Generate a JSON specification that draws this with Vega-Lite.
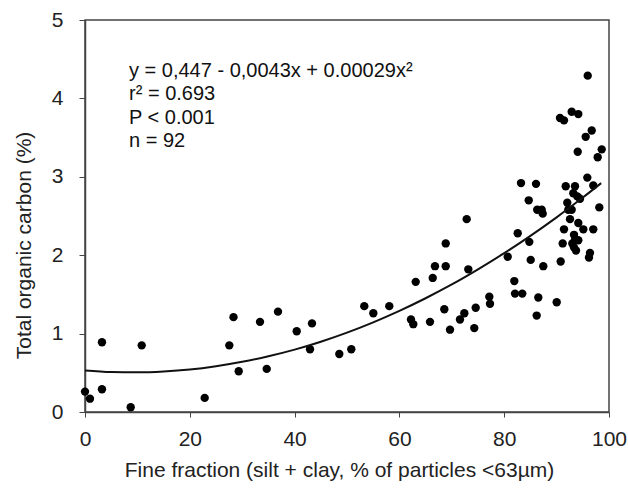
{
  "$schema": "https://vega.github.io/schema/vega-lite/v6.json",
  "width": 524,
  "height": 392,
  "autosize": "none",
  "padding": {"left": 85, "top": 20, "right": 19, "bottom": 79},
  "background": "white",
  "config": {
    "font": "Liberation Sans",
    "view": {"stroke": "#444", "strokeWidth": 1.5},
    "axis": {"grid": false, "domainColor": "#444", "domainWidth": 1.5, "tickColor": "#444", "labelColor": "#222", "titleColor": "#222", "labelFont": "Liberation Sans", "titleFont": "Liberation Sans", "titleFontWeight": "normal", "labelFontSize": 21, "titleFontSize": 21}
  },
  "datasets": {
    "pts": [
      {"x": 0.0, "y": 0.26}, {"x": 0.95, "y": 0.17}, {"x": 3.24, "y": 0.89}, {"x": 3.24, "y": 0.29},
      {"x": 8.72, "y": 0.06}, {"x": 10.82, "y": 0.85}, {"x": 22.84, "y": 0.18}, {"x": 27.54, "y": 0.85},
      {"x": 28.34, "y": 1.21}, {"x": 29.33, "y": 0.52}, {"x": 33.4, "y": 1.15}, {"x": 34.68, "y": 0.55},
      {"x": 36.83, "y": 1.28}, {"x": 40.4, "y": 1.03}, {"x": 42.94, "y": 0.8}, {"x": 43.32, "y": 1.13},
      {"x": 48.53, "y": 0.74}, {"x": 50.82, "y": 0.8}, {"x": 53.3, "y": 1.35}, {"x": 55.02, "y": 1.26},
      {"x": 58.07, "y": 1.35}, {"x": 62.21, "y": 1.18}, {"x": 62.65, "y": 1.12}, {"x": 63.11, "y": 1.66},
      {"x": 65.84, "y": 1.15}, {"x": 66.36, "y": 1.71}, {"x": 66.79, "y": 1.86}, {"x": 68.57, "y": 1.31},
      {"x": 68.84, "y": 1.86}, {"x": 68.84, "y": 2.15}, {"x": 69.66, "y": 1.05}, {"x": 71.56, "y": 1.18},
      {"x": 72.39, "y": 1.26}, {"x": 72.84, "y": 2.46}, {"x": 73.15, "y": 1.82}, {"x": 74.29, "y": 1.07},
      {"x": 74.56, "y": 1.33}, {"x": 77.16, "y": 1.47}, {"x": 77.29, "y": 1.38}, {"x": 80.67, "y": 1.98},
      {"x": 81.93, "y": 1.67}, {"x": 82.06, "y": 1.51}, {"x": 83.45, "y": 1.51}, {"x": 82.58, "y": 2.28},
      {"x": 83.21, "y": 2.92}, {"x": 86.07, "y": 2.91}, {"x": 84.68, "y": 2.7}, {"x": 87.16, "y": 2.58},
      {"x": 87.35, "y": 2.53}, {"x": 84.79, "y": 2.17}, {"x": 85.06, "y": 1.94}, {"x": 87.46, "y": 1.86},
      {"x": 86.51, "y": 1.46}, {"x": 86.2, "y": 1.23}, {"x": 90.02, "y": 1.4}, {"x": 90.78, "y": 1.92},
      {"x": 91.16, "y": 2.15}, {"x": 91.41, "y": 2.33}, {"x": 92.56, "y": 2.46}, {"x": 94.14, "y": 2.41},
      {"x": 95.1, "y": 2.33}, {"x": 97.0, "y": 2.33}, {"x": 93.32, "y": 2.26}, {"x": 93.51, "y": 2.19},
      {"x": 94.14, "y": 2.19}, {"x": 93.32, "y": 2.1}, {"x": 93.7, "y": 2.06}, {"x": 96.37, "y": 2.03},
      {"x": 96.18, "y": 1.97}, {"x": 92.04, "y": 2.67}, {"x": 92.23, "y": 2.58}, {"x": 92.88, "y": 2.58},
      {"x": 98.15, "y": 2.61}, {"x": 93.19, "y": 2.79}, {"x": 93.95, "y": 2.75}, {"x": 94.47, "y": 2.72},
      {"x": 91.74, "y": 2.88}, {"x": 93.51, "y": 2.88}, {"x": 97.0, "y": 2.89}, {"x": 95.86, "y": 2.99},
      {"x": 97.84, "y": 3.25}, {"x": 98.61, "y": 3.35}, {"x": 94.03, "y": 3.32}, {"x": 96.7, "y": 3.59},
      {"x": 95.55, "y": 3.51}, {"x": 92.88, "y": 3.83}, {"x": 94.14, "y": 3.8}, {"x": 90.65, "y": 3.75},
      {"x": 91.41, "y": 3.72}, {"x": 95.94, "y": 4.29}, {"x": 93.0, "y": 2.15}, {"x": 86.3, "y": 2.58}
    ],
    "fit": [
      {"x": 0, "y": 0.53}, {"x": 5, "y": 0.51}, {"x": 10, "y": 0.506}, {"x": 15, "y": 0.517},
      {"x": 20, "y": 0.542}, {"x": 25, "y": 0.584}, {"x": 30, "y": 0.64}, {"x": 35, "y": 0.711},
      {"x": 40, "y": 0.796}, {"x": 45, "y": 0.897}, {"x": 50, "y": 1.013}, {"x": 55, "y": 1.144},
      {"x": 60, "y": 1.29}, {"x": 65, "y": 1.451}, {"x": 70, "y": 1.627}, {"x": 75, "y": 1.82},
      {"x": 80, "y": 2.026}, {"x": 85, "y": 2.247}, {"x": 90, "y": 2.483}, {"x": 95, "y": 2.735},
      {"x": 98.5, "y": 2.919}
    ],
    "notes": [
      {"x": 8.4, "y": 4.35, "label": "y = 0,447 - 0,0043x + 0.00029x²"},
      {"x": 8.4, "y": 4.05, "label": "r² = 0.693"},
      {"x": 8.4, "y": 3.75, "label": "P < 0.001"},
      {"x": 8.4, "y": 3.46, "label": "n = 92"}
    ]
  },
  "layer": [
    {
      "data": {"name": "pts"},
      "mark": {"type": "point", "filled": true, "shape": "circle", "size": 70, "color": "#000", "opacity": 1},
      "encoding": {
        "x": {"field": "x", "type": "quantitative", "scale": {"domain": [0, 100], "nice": false, "zero": false},
          "axis": {"title": "Fine fraction (silt + clay, % of particles <63µm)", "values": [0, 20, 40, 60, 80, 100], "format": "d", "tickSize": 5, "labelPadding": 11, "titleY": 58, "titleBaseline": "middle", "titleX": 254, "titleAnchor": null, "labelFlush": false}},
        "y": {"field": "y", "type": "quantitative", "scale": {"domain": [0, 5], "nice": false, "zero": false},
          "axis": {"title": "Total organic carbon (%)", "values": [0, 1, 2, 3, 4, 5], "format": "d", "tickSize": 6, "labelPadding": 16, "titleX": -61, "titleY": 225, "titleAngle": 270, "titleBaseline": "middle", "titleAlign": "center", "labelFlush": false}}
      }
    },
    {
      "data": {"name": "fit"},
      "mark": {"type": "line", "color": "#111", "strokeWidth": 2, "interpolate": "monotone"},
      "encoding": {
        "x": {"field": "x", "type": "quantitative"},
        "y": {"field": "y", "type": "quantitative"}
      }
    },
    {
      "data": {"name": "notes"},
      "mark": {"type": "text", "align": "left", "baseline": "middle", "fontSize": 20, "font": "Liberation Sans", "color": "#111"},
      "encoding": {
        "x": {"field": "x", "type": "quantitative"},
        "y": {"field": "y", "type": "quantitative"},
        "text": {"field": "label"}
      }
    }
  ]
}
